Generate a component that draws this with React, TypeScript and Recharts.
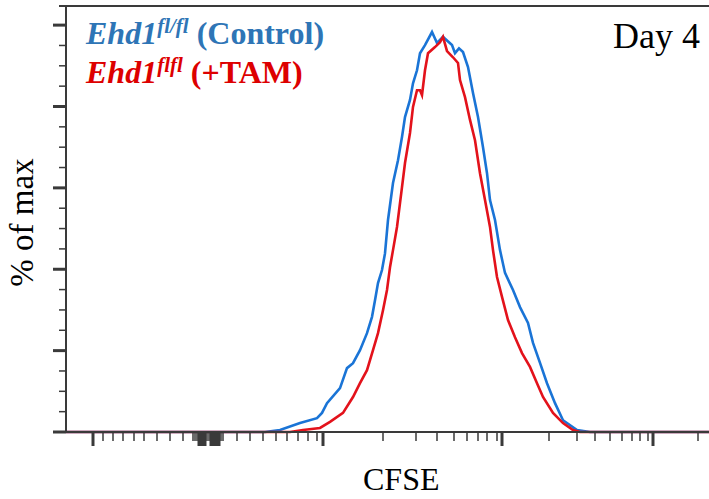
import { LineChart, Line, XAxis, YAxis } from 'recharts'

// CFSE display channel (biexponential display, plot-linear units) and % of max
const controlX = [0, 199, 214, 234, 251, 256, 261, 274, 281, 287, 294, 301, 306, 309, 312, 316, 319, 322, 327, 332, 336, 339, 344, 347, 351, 354, 359, 366, 371, 377, 386, 389, 393, 397, 402, 407, 412, 417, 421, 424, 429, 434, 439, 447, 454, 462, 467, 474, 481, 489, 497, 511, 524, 643]
const controlPct = [0, 0, 0.5, 2.2, 3.4, 4.7, 7.1, 10.8, 15.7, 16.9, 20.1, 24.3, 28.3, 32.4, 36.6, 39.8, 43.9, 52.1, 61.2, 66.8, 72.5, 77.4, 81.6, 85.7, 88.9, 93.1, 95.1, 98.3, 95.6, 97.1, 95.1, 93.1, 94.3, 93.4, 89.7, 83.3, 77.4, 70.0, 63.6, 57.0, 52.1, 44.7, 39.1, 34.9, 30.7, 26.8, 21.9, 17.0, 12.0, 7.1, 2.9, 0.5, 0, 0]

const tamX = [0, 224, 237, 254, 264, 277, 287, 294, 301, 307, 312, 317, 321, 324, 327, 331, 336, 339, 344, 347, 351, 354, 356, 359, 362, 369, 374, 377, 381, 387, 392, 394, 399, 404, 409, 414, 419, 424, 427, 431, 436, 442, 449, 456, 464, 471, 477, 487, 497, 507, 514, 643]
const tamPct = [0, 0, 0.5, 1.0, 2.5, 4.7, 8.6, 12.0, 15.2, 20.1, 24.3, 29.9, 34.9, 40.5, 44.7, 50.4, 60.2, 66.1, 73.5, 79.9, 84.0, 84.0, 82.8, 88.9, 93.1, 94.6, 95.8, 97.1, 93.6, 92.1, 90.7, 86.5, 82.3, 76.7, 71.7, 63.6, 57.0, 50.4, 44.7, 38.1, 33.2, 27.5, 23.3, 19.4, 16.0, 12.0, 8.6, 4.7, 2.2, 0.5, 0, 0]

const xMajorTicks = [27, 133, 135, 137, 139, 145, 147, 149, 151, 153, 257, 436, 587]
const xMinorTicks = [37, 47, 57, 68, 78, 91, 104, 117, 127, 129, 131, 141, 143, 155, 157, 171, 184, 197, 210, 221, 232, 242, 251, 317, 350, 371, 388, 401, 412, 421, 431, 483, 511, 529, 544, 556, 566, 574, 582, 632]
const yMajorTicks = [0, 20, 40, 60, 80, 100]
const yMinorTicks = [5, 10, 15, 25, 30, 35, 45, 50, 55, 65, 70, 75, 85, 90, 95]

const controlData = controlX.map((x, i) => ({ x, pct: controlPct[i] }))
const tamData = tamX.map((x, i) => ({ x, pct: tamPct[i] }))

const AXIS = '#3a3a3a'
const SERIF = '"Liberation Serif", "Times New Roman", serif'

function XTick({ x, y, payload }: any) {
  const major = xMajorTicks.includes(payload.value)
  return <line x1={x} x2={x} y1={y} y2={y + (major ? 14 : 9)} stroke={AXIS} strokeWidth={major ? 3 : 1.5} />
}

function YTick({ x, y, payload }: any) {
  const major = yMajorTicks.includes(payload.value)
  return <line x1={x} x2={x - (major ? 13 : 7)} y1={y} y2={y} stroke={AXIS} strokeWidth={major ? 3 : 1.5} />
}

export default function App() {
  return (
    <div style={{ position: 'absolute', left: 0, top: 0, width: 709, height: 499, background: '#fff', fontFamily: SERIF }}>
      <LineChart width={709} height={499} margin={{ top: 5, right: 0, left: 65, bottom: 66 }}>
        <XAxis
          dataKey="x"
          type="number"
          domain={[0, 643]}
          ticks={[...xMajorTicks, ...xMinorTicks].sort((a, b) => a - b)}
          interval={0}
          tickSize={0}
          tickMargin={0}
          tickLine={false}
          tick={<XTick />}
          height={1}
          axisLine={{ stroke: AXIS, strokeWidth: 2 }}
        />
        <XAxis
          xAxisId="top"
          orientation="top"
          type="number"
          domain={[0, 643]}
          tick={false}
          tickLine={false}
          height={1}
          axisLine={{ stroke: AXIS, strokeWidth: 2 }}
        />
        <YAxis
          type="number"
          domain={[0, 104.7]}
          ticks={[...yMajorTicks, ...yMinorTicks].sort((a, b) => a - b)}
          interval={0}
          tickSize={0}
          tickMargin={0}
          tickLine={false}
          tick={<YTick />}
          width={1}
          axisLine={{ stroke: AXIS, strokeWidth: 2 }}
        />
        <Line data={controlData} dataKey="pct" type="linear" stroke="#1a74d6" strokeWidth={2.6} dot={false} isAnimationActive={false} />
        <Line data={tamData} dataKey="pct" type="linear" stroke="#e3121b" strokeWidth={2.6} dot={false} isAnimationActive={false} />
      </LineChart>

      {/* top frame line sticks out a little to the left of the y axis */}
      <div style={{ position: 'absolute', left: 59, top: 5, width: 8, height: 2, background: AXIS }} />

      <div style={{ position: 'absolute', left: 86, top: 17, fontSize: 32, lineHeight: '32px', fontWeight: 'bold', color: '#2e75b6', whiteSpace: 'nowrap' }}>
        <i>Ehd1</i>
        <i style={{ fontSize: 21, position: 'relative', top: -11 }}>fl/fl</i> (Control)
      </div>
      <div style={{ position: 'absolute', left: 86, top: 56, fontSize: 32, lineHeight: '32px', fontWeight: 'bold', color: '#dd0000', whiteSpace: 'nowrap' }}>
        <i>Ehd1</i>
        <i style={{ fontSize: 21, position: 'relative', top: -11 }}>flfl</i> (+TAM)
      </div>
      <div style={{ position: 'absolute', left: 613, top: 18, fontSize: 36, lineHeight: '36px', color: '#000', whiteSpace: 'nowrap' }}>Day 4</div>
      <div style={{ position: 'absolute', left: 363, top: 463, fontSize: 32, lineHeight: '32px', color: '#000', whiteSpace: 'nowrap' }}>CFSE</div>
      <div
        style={{
          position: 'absolute',
          left: 22 - 100,
          top: 222 - 16.5,
          width: 200,
          height: 33,
          fontSize: 33,
          lineHeight: '33px',
          textAlign: 'center',
          color: '#000',
          transform: 'rotate(-90deg)',
          transformOrigin: 'center',
          whiteSpace: 'nowrap',
        }}
      >
        % of max
      </div>
    </div>
  )
}
